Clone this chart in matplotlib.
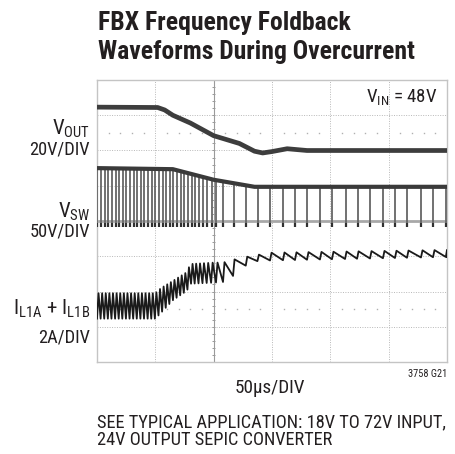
import numpy as np
import matplotlib
matplotlib.use('Agg')
import matplotlib.pyplot as plt
from matplotlib import font_manager

# time in us (50us/DIV, 6 divisions), vertical in scope divisions (0 bottom .. 8 top)

# switching events (us)
pulse_t = [0.0, 3.1, 6.2, 9.3, 12.4, 15.5, 18.6, 21.7, 24.8, 27.9, 31.0, 34.1,
           37.2, 40.3, 43.4, 46.5, 49.6, 52.7, 55.8, 58.9, 62.0, 65.1, 68.2,
           71.3, 74.4, 77.5, 80.6, 83.7, 87.0, 90.4, 94.0, 97.8, 102.0, 108.0,
           116.6, 127.5, 137.5, 148.3, 159.4, 169.7, 180.0, 191.1, 201.4,
           212.6, 222.9, 234.0, 245.1, 255.4, 265.7, 277.7, 288.0, 299.0]

# V_OUT trace
vout_t = [0, 52, 58, 65, 80, 100, 122, 135, 142, 150, 163, 180, 300]
vout_div = [7.23, 7.22, 7.15, 7.0, 6.78, 6.42, 6.2, 5.98, 5.93, 5.97, 6.05, 6.0, 6.0]

# V_SW high level and low level
vsw_t = [0, 65, 100, 135, 300]
vsw_top = [5.50, 5.47, 5.17, 4.97, 4.97]
vsw_low = 3.82

# inductor current ripple envelope (peaks / valleys)
il_t = [0, 50, 55, 65, 77, 80, 100, 108, 122, 131, 148, 300]
il_top = [1.95, 1.95, 2.1, 2.3, 2.55, 2.78, 2.82, 2.82, 2.95, 3.0, 3.1, 3.18]
il_bot = [1.23, 1.23, 1.4, 1.75, 2.02, 2.22, 2.25, 2.27, 2.55, 2.85, 2.88, 2.98]

# use a narrow face when one is installed, otherwise Liberation Sans scaled down
names = {f.name for f in font_manager.fontManager.ttflist}
narrow = [n for n in ['Liberation Sans Narrow', 'Roboto Condensed', 'DejaVu Sans Condensed']
          if n in names]
if narrow:
    face, k = narrow[0], 1.0
else:
    face, k = 'Liberation Sans', 0.8

plt.rcParams['font.family'] = [face, 'DejaVu Sans']
plt.rcParams['mathtext.fontset'] = 'custom'
plt.rcParams['mathtext.rm'] = face
plt.rcParams['mathtext.it'] = face + ':italic'
plt.rcParams['mathtext.bf'] = face + ':bold'

W, H = 456, 454
fig = plt.figure(figsize=(W / 100, H / 100), dpi=100)
ax = fig.add_axes([97 / W, 1 - 362 / H, 350 / W, 282 / H])
ax.set_xlim(0, 300)
ax.set_ylim(0, 8)
ax.set_xticks([])
ax.set_yticks([])
for s in ax.spines.values():
    s.set_color('#c4c4c4')
    s.set_linewidth(1)

txt = '#231f20'

# graticule
for y in range(1, 8):
    ax.axhline(y, color='#b8b8b8', lw=0.7, ls=(0, (1, 1.5)), zorder=1)
for x in [50, 150, 200, 250]:
    ax.axvline(x, color='#b8b8b8', lw=0.7, ls=(0, (1, 1.5)), zorder=1)
ax.axvline(100, color='#9a9a9a', lw=0.8, zorder=1)
ax.hlines(np.arange(0.2, 8, 0.2), 98.6, 101.4, color='#9a9a9a', lw=0.7, zorder=1)
dot_x = [x for x in range(10, 300, 10) if x % 50]
for y in [6.5, 1.5]:
    ax.plot(dot_x, [y] * len(dot_x), ls='none', marker='s', ms=1.0,
            color='#b0b0b0', mew=0, zorder=1)
ax.axhline(4.0, color='#a8a8a8', lw=2.0, zorder=2)

# V_OUT
ax.plot(vout_t, vout_div, color='#3d3d3d', lw=3.4, solid_capstyle='butt', zorder=5)

# V_SW
pt = np.array(pulse_t)
tops = np.interp(pt, vsw_t, vsw_top)
ax.vlines(pt + 0.4, vsw_low, tops, color='#666666', lw=1.3, zorder=3)
ax.vlines(pt + 0.4, vsw_low, vsw_low + 0.12, color='#303030', lw=1.6, zorder=4)
ax.plot(vsw_t, vsw_top, color='#3a3a3a', lw=3.0, solid_capstyle='butt', zorder=4)

# inductor current sawtooth built from the switching events
rise = 1.3
xs, ys = [], []
for i, t0 in enumerate(pt):
    t1 = pt[i + 1] if i + 1 < len(pt) else 300.0
    xs += [t0, min(t0 + rise, t1)]
    ys += [np.interp(t0, il_t, il_bot), np.interp(t0 + rise, il_t, il_top)]
xs.append(300.0)
ys.append(np.interp(300.0, il_t, il_bot))
ax.plot(xs, ys, color='#1a1a1a', lw=1.3, zorder=5)


def ftext(x, y, s, size, **kw):
    fig.text(x / W, 1 - y / H, s, color=txt, va='baseline', fontsize=size * k, **kw)


# titles and labels
tk = 1.12 if narrow else 1.3
ftext(98, 30, 'FBX Frequency Foldback', 16.5 * tk, fontweight='bold')
ftext(98, 59, 'Waveforms During Overcurrent', 16.5 * tk, fontweight='bold')

ftext(90, 135, r'V$_{\mathrm{OUT}}$', 15, ha='right')
ftext(90, 154, '20V/DIV', 13.2, ha='right')
ftext(90, 218, r'V$_{\mathrm{SW}}$', 15, ha='right')
ftext(90, 237, '50V/DIV', 13.2, ha='right')
ftext(90, 315, r'I$_{\mathrm{L1A}}$ + I$_{\mathrm{L1B}}$', 15, ha='right')
ftext(90, 343, '2A/DIV', 13.2, ha='right')

ftext(437, 102, r'V$_{\mathrm{IN}}$ = 48V', 13.6, ha='right')
ftext(270, 393, '50µs/DIV', 13.8, ha='center')
ftext(447, 377, '3758 G21', 7.5, ha='right')
ftext(97, 427, 'SEE TYPICAL APPLICATION: 18V TO 72V INPUT,', 13.2)
ftext(97, 445, '24V OUTPUT SEPIC CONVERTER', 13.2)

fig.savefig('out.png', dpi=100)
